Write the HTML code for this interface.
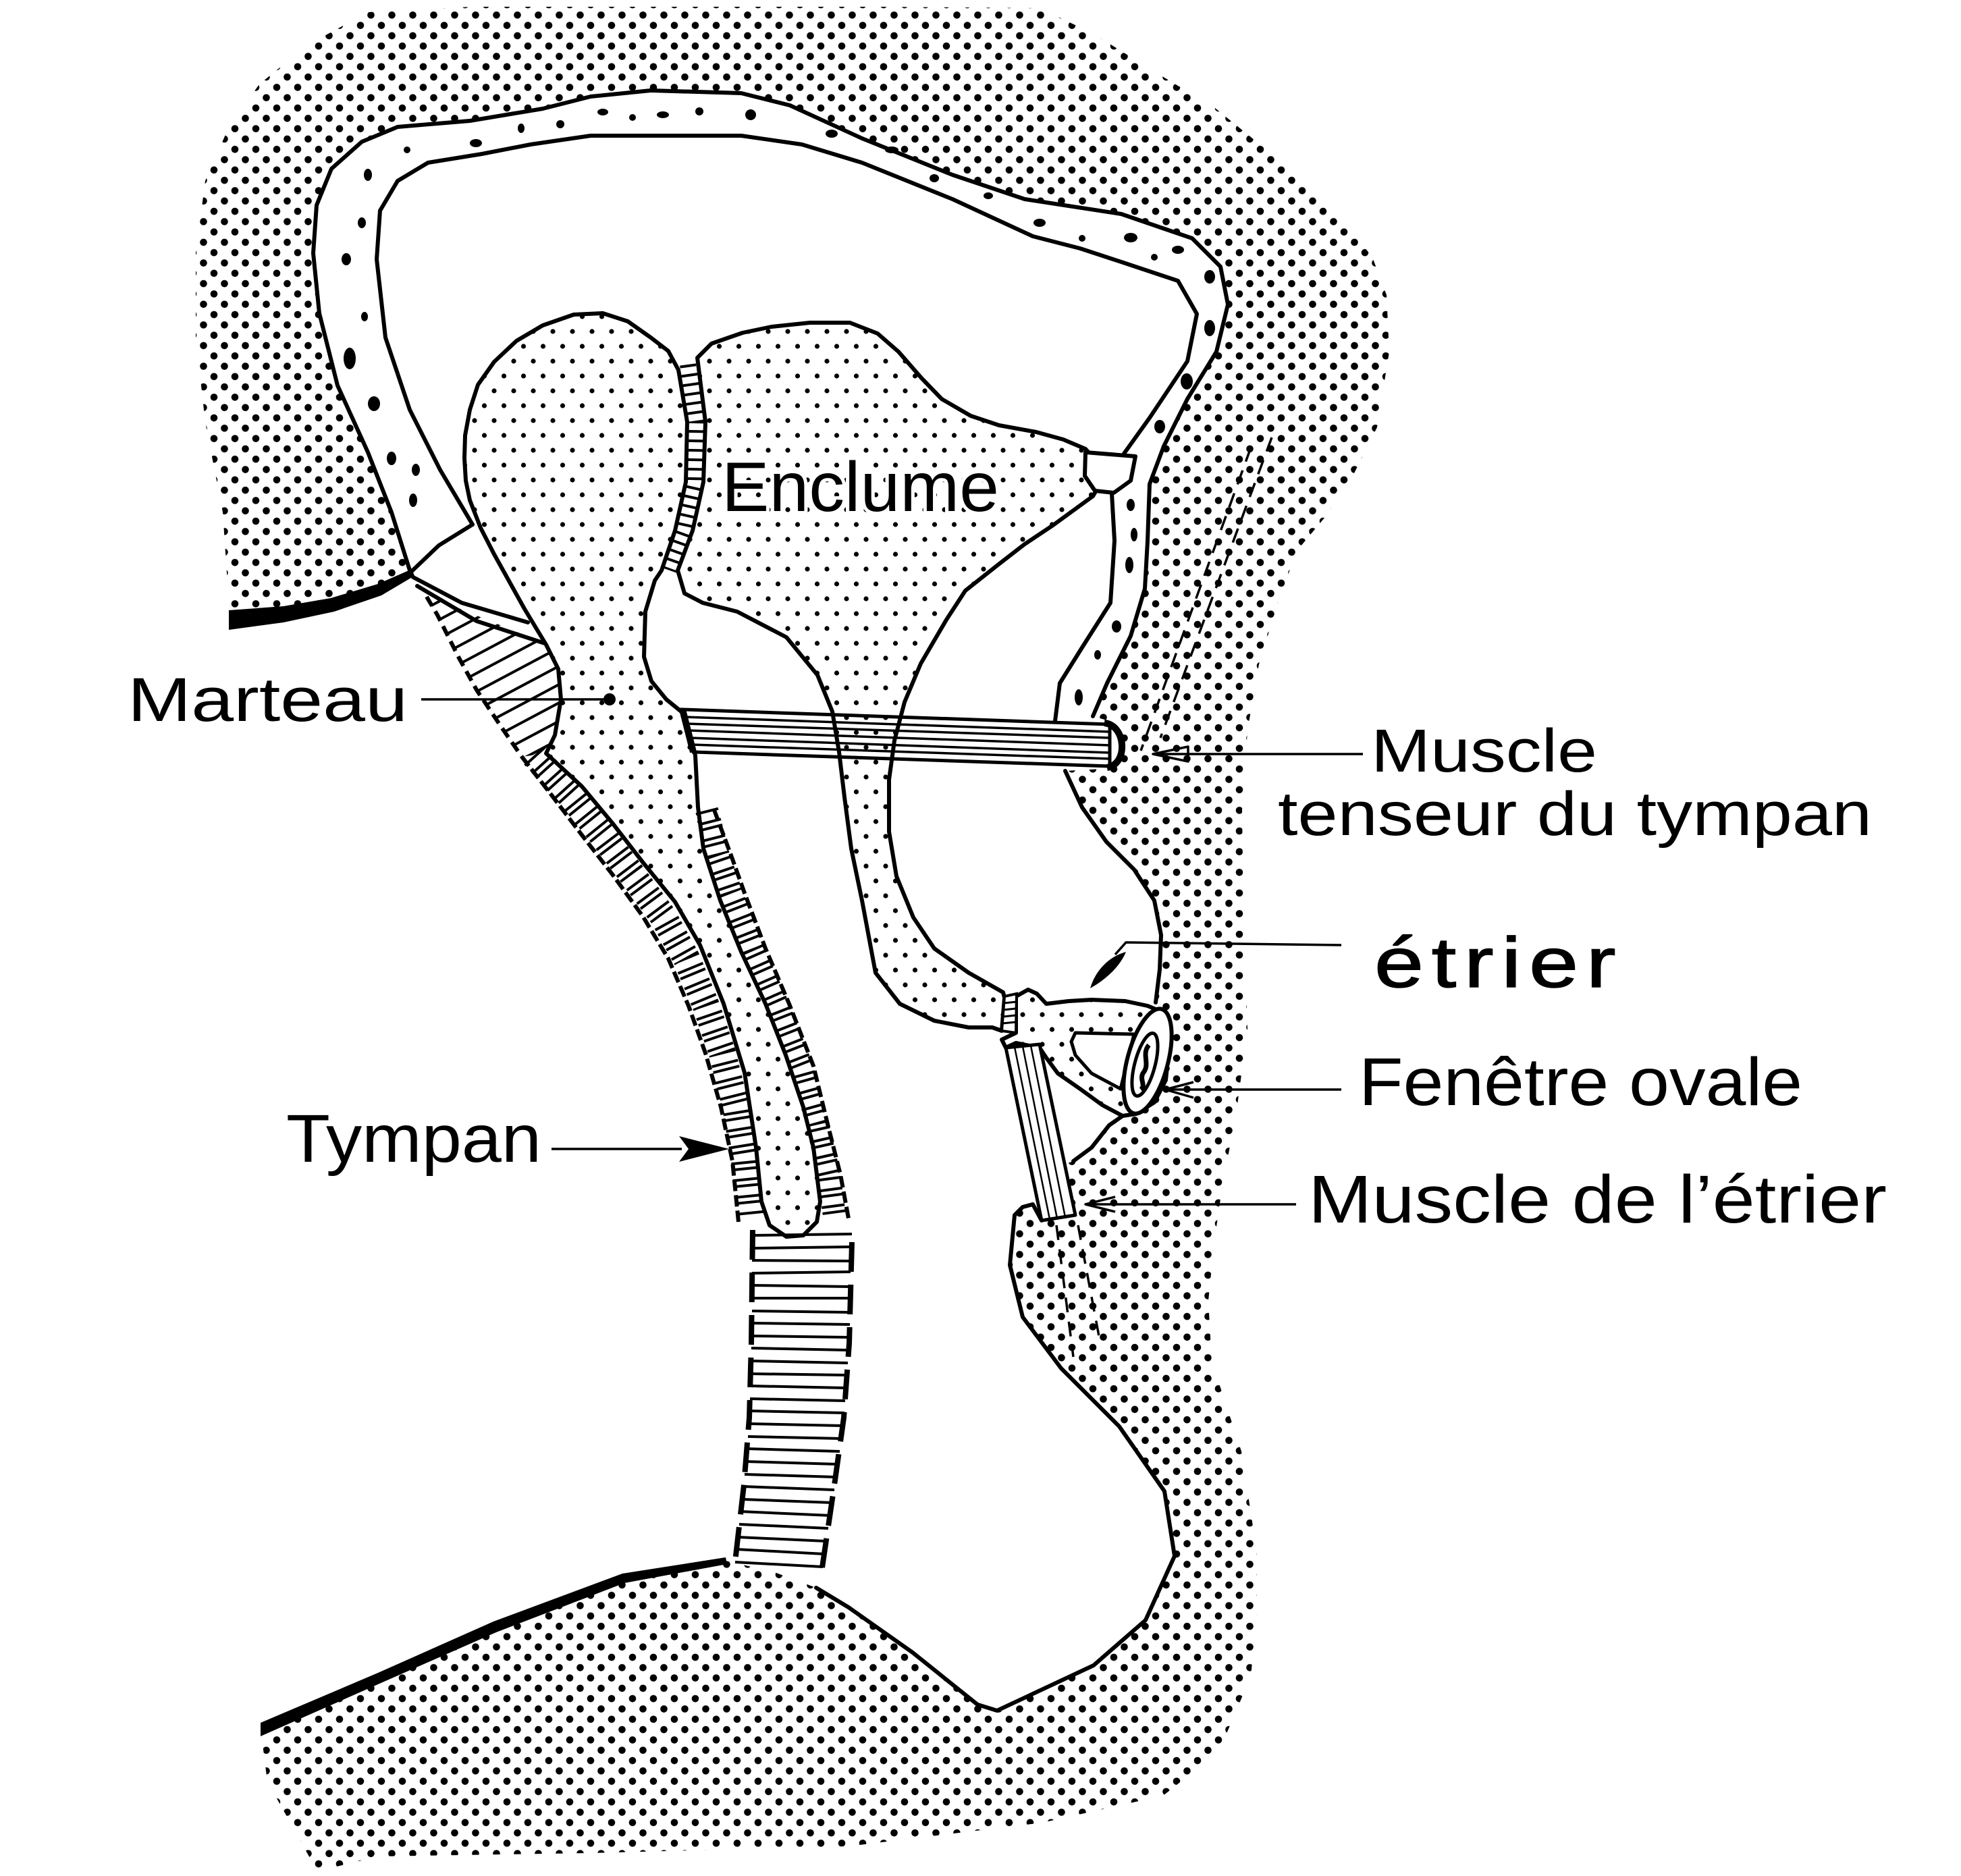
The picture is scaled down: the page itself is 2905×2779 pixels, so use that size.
<!DOCTYPE html>
<html><head><meta charset="utf-8"><style>
html,body{margin:0;padding:0;background:#fff;}
svg{display:block;}
text{font-family:"Liberation Sans",sans-serif;fill:#000;}
</style></head><body>
<svg width="2905" height="2779" viewBox="0 0 2905 2779" xmlns="http://www.w3.org/2000/svg">
<defs>
<pattern id="pb" width="31" height="30.6" patternUnits="userSpaceOnUse"><circle cx="7" cy="7" r="5.3"/><circle cx="22.5" cy="22.3" r="5.3"/></pattern>
<pattern id="po" width="29" height="44" patternUnits="userSpaceOnUse"><circle cx="7" cy="7" r="3.6"/><circle cx="21.5" cy="29" r="3.6"/></pattern>
<pattern id="ph" width="24" height="24" patternUnits="userSpaceOnUse" patternTransform="rotate(-28)"><line x1="0" y1="12" x2="24" y2="12" stroke="#000" stroke-width="4"/></pattern>
</defs>
<rect width="2905" height="2779" fill="#fff"/>

<!-- bone stipple -->
<path fill="url(#pb)" d="M339,930 L339,893 L330,759 L304,625 L290,500 L290,375 L304,268 L339,188 L384,125 L455,67 L545,18 L700,10 L1000,10 L1300,10 L1540,12 L1620,50 L1700,100 L1800,160 L1880,225 L1977,310 L2033,381 L2054,437 L2058,521 L2040,633 L2005,703 L1963,766 L1921,816 L1893,893 L1865,984 L1848,1082 L1840,1200 L1842,1346 L1848,1525 L1830,1659 L1812,1748 L1799,1838 L1790,1927 L1795,2016 L1839,2150 L1862,2300 L1862,2390 L1853,2483 L1806,2594 L1723,2660 L1544,2700 L1257,2735 L874,2745 L560,2750 L470,2772 L430,2700 L396,2639 L386,2560 Z"/>

<!-- white cavity / canal -->
<path fill="#fff" d="M0,920 L339,918 L470,905 L560,878 L608,848 L580,759 L545,670 L500,571 L473,464 L464,375 L469,304 L491,250 L536,210 L589,188 L696,179 L804,161 L875,143 L964,134 L1098,138 L1170,156 L1277,205 L1411,259 L1518,295 L1661,317 L1766,353 L1808,395 L1819,451 L1802,521 L1759,591 L1724,661 L1703,717 L1700,801 L1696,872 L1675,942 L1640,1012 L1619,1061 L1650,1070 L1665,1104 L1650,1138 L1578,1142 L1603,1196 L1639,1247 L1680,1288 L1710,1334 L1720,1385 L1718,1436 L1712,1485 L1717,1497 L1730,1517 L1732,1550 L1727,1600 L1710,1633 L1683,1650 L1663,1653 L1643,1667 L1617,1700 L1590,1720 L1576,1725 L1593,1800 L1543,1808 L1520,1788 L1503,1800 L1496,1874 L1515,1951 L1572,2027 L1658,2113 L1725,2209 L1740,2305 L1697,2400 L1620,2467 L1477,2534 L1448,2525 L1352,2448 L1257,2381 L1209,2352 L1150,2330 L1084,2314 L1075,2312 L922,2338 L731,2410 L386,2562 L0,2562 Z"/>

<g fill="none" stroke="#000" stroke-width="6" stroke-linejoin="round" stroke-linecap="round">
<!-- outer wall line -->
<path d="M608,848 L580,759 L545,670 L500,571 L473,464 L464,375 L469,304 L491,250 L536,210 L589,188 L696,179 L804,161 L875,143 L964,134 L1098,138 L1170,156 L1277,205 L1411,259 L1518,295 L1661,317 L1766,353 L1808,395 L1819,451 L1802,521 L1759,591 L1724,661 L1703,717 L1700,801 L1696,872 L1675,942 L1640,1012 L1619,1061"/>
<!-- inner wall line -->
<path d="M700,777 L652,696 L607,607 L571,500 L558,384 L563,312 L589,268 L634,241 L714,228 L786,214 L875,201 L964,201 L1098,201 L1188,214 L1277,241 L1411,295 L1530,350 L1600,368 L1661,388 L1745,416 L1773,465 L1759,535 L1703,619 L1665,672"/>
<path d="M1647,731 L1651,801 L1645,893 L1605,956 L1570,1012 L1563,1068"/>
<!-- lines from junction -->
<path d="M608,848 L650,808 L700,777"/>
<path d="M612,855 L684,893 L782,922"/>
<path d="M618,868 L706,920 L807,953"/>
</g>

<!-- wall spots -->
<g fill="#000">
<ellipse cx="545" cy="259" rx="6" ry="9"/>
<ellipse cx="536" cy="330" rx="6" ry="8"/>
<ellipse cx="513" cy="384" rx="7" ry="9"/>
<ellipse cx="540" cy="469" rx="5" ry="7"/>
<ellipse cx="518" cy="531" rx="9" ry="16"/>
<ellipse cx="554" cy="598" rx="9" ry="11"/>
<ellipse cx="580" cy="679" rx="7" ry="10"/>
<ellipse cx="616" cy="696" rx="6" ry="9"/>
<ellipse cx="612" cy="741" rx="6" ry="10"/>
<ellipse cx="603" cy="222" rx="5" ry="5"/>
<ellipse cx="705" cy="212" rx="9" ry="6"/>
<ellipse cx="772" cy="190" rx="5" ry="7"/>
<ellipse cx="830" cy="184" rx="6" ry="6"/>
<ellipse cx="893" cy="166" rx="8" ry="5"/>
<ellipse cx="937" cy="174" rx="5" ry="5"/>
<ellipse cx="982" cy="170" rx="9" ry="5"/>
<ellipse cx="1036" cy="165" rx="6" ry="6"/>
<ellipse cx="1112" cy="170" rx="8" ry="8"/>
<ellipse cx="1232" cy="198" rx="9" ry="6"/>
<ellipse cx="1321" cy="222" rx="10" ry="5"/>
<ellipse cx="1384" cy="264" rx="7" ry="6"/>
<ellipse cx="1464" cy="290" rx="7" ry="5"/>
<ellipse cx="1540" cy="330" rx="9" ry="6"/>
<ellipse cx="1603" cy="353" rx="5" ry="5"/>
<ellipse cx="1675" cy="352" rx="10" ry="7"/>
<ellipse cx="1710" cy="381" rx="5" ry="5"/>
<ellipse cx="1745" cy="370" rx="9" ry="6"/>
<ellipse cx="1792" cy="410" rx="8" ry="10"/>
<ellipse cx="1792" cy="486" rx="8" ry="12"/>
<ellipse cx="1758" cy="565" rx="9" ry="12"/>
<ellipse cx="1718" cy="632" rx="8" ry="10"/>
<ellipse cx="1675" cy="748" rx="6" ry="9"/>
<ellipse cx="1680" cy="792" rx="5" ry="10"/>
<ellipse cx="1673" cy="837" rx="6" ry="12"/>
<ellipse cx="1654" cy="928" rx="7" ry="9"/>
<ellipse cx="1626" cy="970" rx="5" ry="7"/>
<ellipse cx="1598" cy="1033" rx="6" ry="12"/>
</g>

<!-- thick lines -->
<path fill="#000" d="M339,904 L420,898 L490,886 L560,865 L610,843 L614,853 L565,882 L495,906 L420,922 L339,933 Z"/>
<path fill="#000" d="M386,2552 L560,2478 L731,2402 L922,2331 L1075,2307 L1077,2317 L925,2345 L735,2418 L560,2495 L386,2572 Z"/>

<!-- hatched region under malleus -->
<path fill="url(#ph)" d="M628,880 L807,953 L827,991 L831,1036 L822,1089 L809,1116 L773,1121 L742,1076 L706,1022 L679,973 L648,911 Z"/>
<path d="M632,884 L648,911 L679,973 L706,1022 L742,1076 L773,1121" fill="none" stroke="#000" stroke-width="6" stroke-dasharray="16 9"/>

<!-- outer tympanum band (ladder) -->
<path d="M791,1119 L846,1180 L892,1237 L936,1295 L982,1357 L1017,1420 L1046,1490 L1070,1560 L1090,1640 L1103,1720 L1111,1800" fill="none" stroke="#000" stroke-width="40" stroke-dasharray="4 12 4 5"/>
<path d="M773,1121 L818,1179 L862,1237 L907,1295 L952,1357 L990,1420 L1020,1490 L1045,1560 L1068,1640 L1085,1720 L1094,1810" fill="none" stroke="#000" stroke-width="6" stroke-dasharray="17 6"/>
<!-- inner band -->
<path d="M1047,1200 L1064,1267 L1083,1323 L1115,1405 L1151,1487 L1187,1579 L1211,1665 L1228,1740 L1236,1800" fill="none" stroke="#000" stroke-width="34" stroke-dasharray="4 12 4 5"/>
<path d="M1058,1200 L1083,1267 L1103,1323 L1134,1405 L1169,1487 L1205,1579 L1226,1665 L1245,1740 L1257,1805" fill="none" stroke="#000" stroke-width="6" stroke-dasharray="17 6"/>

<!-- wide ladder -->
<g fill="none" stroke="#000" stroke-width="8" stroke-dasharray="44 19">
<path d="M1115,1822 L1113,1990 L1110,2100 L1102,2200 L1088,2322"/>
<path d="M1262,1840 L1258,1990 L1250,2100 L1236,2200 L1218,2322"/>
</g>
<g stroke="#000" stroke-width="4">
<line x1="1115" y1="1830" x2="1262" y2="1828"/>
<line x1="1115" y1="1849" x2="1261" y2="1847"/>
<line x1="1114" y1="1867" x2="1261" y2="1868"/>
<line x1="1114" y1="1886" x2="1260" y2="1884"/>
<line x1="1114" y1="1904" x2="1260" y2="1906"/>
<line x1="1114" y1="1923" x2="1260" y2="1923"/>
<line x1="1114" y1="1942" x2="1259" y2="1944"/>
<line x1="1113" y1="1960" x2="1259" y2="1962"/>
<line x1="1113" y1="1979" x2="1258" y2="1981"/>
<line x1="1113" y1="1997" x2="1257" y2="2000"/>
<line x1="1112" y1="2016" x2="1256" y2="2019"/>
<line x1="1112" y1="2035" x2="1255" y2="2037"/>
<line x1="1111" y1="2053" x2="1253" y2="2056"/>
<line x1="1111" y1="2072" x2="1252" y2="2075"/>
<line x1="1110" y1="2090" x2="1251" y2="2093"/>
<line x1="1109" y1="2109" x2="1249" y2="2112"/>
<line x1="1108" y1="2128" x2="1246" y2="2131"/>
<line x1="1106" y1="2146" x2="1244" y2="2150"/>
<line x1="1105" y1="2165" x2="1241" y2="2169"/>
<line x1="1103" y1="2184" x2="1238" y2="2188"/>
<line x1="1102" y1="2202" x2="1236" y2="2207"/>
<line x1="1100" y1="2221" x2="1233" y2="2226"/>
<line x1="1097" y1="2239" x2="1230" y2="2245"/>
<line x1="1095" y1="2258" x2="1227" y2="2264"/>
<line x1="1093" y1="2277" x2="1224" y2="2283"/>
<line x1="1091" y1="2295" x2="1221" y2="2302"/>
<line x1="1089" y1="2314" x2="1219" y2="2321"/>
</g>

<!-- malleus -->
<path fill="url(#po)" stroke="#000" stroke-width="6" stroke-linejoin="round" d="M1005,548 L990,520 L964,500 L930,476 L893,464 L850,466 L804,482 L765,505 L732,536 L708,570 L696,607 L689,645 L688,679 L690,712 L696,741 L712,782 L732,821 L777,902 L809,955 L827,991 L831,1036 L822,1089 L809,1116 L862,1165 L907,1219 L952,1277 L1000,1336 L1037,1400 L1072,1487 L1103,1589 L1120,1700 L1128,1780 L1140,1815 L1165,1832 L1190,1830 L1210,1810 L1215,1780 L1205,1700 L1190,1640 L1164,1563 L1134,1487 L1098,1410 L1067,1334 L1042,1257 L1034,1196 L1030,1119 L1014,1058 L987,1036 L965,1009 L954,973 L956,906 L970,860 L980,845 L1000,786 L1016,714 L1018,625 Z"/>
<circle cx="903" cy="1036" r="9" fill="#000"/>

<!-- incudomalleolar joint -->
<path d="M1019,540 L1031,625 L1029,714 L1013,786 L992,845" fill="none" stroke="#000" stroke-width="24" stroke-dasharray="4 10"/>

<!-- tensor tympani tendon -->
<path fill="#fff" stroke="#000" stroke-width="5" d="M1011,1051 L1644,1073 L1644,1135 L1027,1114 Z"/>
<g stroke="#000" stroke-width="3.5">
<line x1="1014" y1="1062" x2="1644" y2="1084"/>
<line x1="1016" y1="1072" x2="1644" y2="1093"/>
<line x1="1019" y1="1082" x2="1644" y2="1104"/>
<line x1="1022" y1="1093" x2="1644" y2="1115"/>
<line x1="1024" y1="1103" x2="1644" y2="1124"/>
</g>
<path d="M1011,1051 L1027,1114" stroke="#000" stroke-width="10" fill="none"/>
<path d="M1636,1071 C1668,1074 1672,1132 1640,1137" stroke="#000" stroke-width="10" fill="none"/>

<!-- incus -->
<path fill="url(#po)" stroke="#000" stroke-width="6" stroke-linejoin="round" d="M1033,530 L1054,509 L1100,493 L1143,484 L1200,478 L1259,478 L1300,494 L1331,521 L1365,560 L1395,591 L1438,616 L1480,630 L1535,640 L1575,651 L1608,665 L1640,700 L1619,735 L1560,778 L1518,806 L1478,837 L1430,875 L1402,918 L1364,983 L1340,1040 L1325,1097 L1317,1155 L1317,1232 L1328,1298 L1353,1359 L1384,1405 L1435,1441 L1486,1470 L1488,1478 L1484,1527 L1470,1522 L1435,1522 L1384,1512 L1333,1487 L1297,1441 L1277,1334 L1261,1257 L1251,1181 L1243,1114 L1233,1054 L1211,1000 L1165,944 L1092,906 L1041,893 L1014,879 L1004,845 L1026,786 L1042,714 L1045,625 Z"/>
<!-- node -->
<path fill="#fff" stroke="#000" stroke-width="6" stroke-linejoin="round" d="M1608,670 L1682,676 L1675,712 L1650,730 L1622,727 L1607,705 Z"/>

<!-- stapes -->
<path fill="url(#po)" stroke="#000" stroke-width="6" stroke-linejoin="round" d="M1505,1476 L1523,1466 L1536,1472 L1550,1487 L1583,1483 L1617,1481 L1667,1483 L1700,1490 L1717,1497 L1730,1517 L1732,1550 L1727,1600 L1710,1633 L1683,1650 L1663,1653 L1633,1637 L1600,1613 L1567,1590 L1550,1567 L1540,1552 L1505,1545 L1490,1552 L1484,1540 L1505,1530 Z"/>
<path fill="#fff" stroke="#000" stroke-width="5" stroke-linejoin="round" d="M1593,1530 L1680,1532 L1660,1613 L1617,1590 L1593,1563 L1587,1543 Z"/>
<ellipse cx="1700" cy="1572" rx="30" ry="80" transform="rotate(15 1700 1572)" fill="#fff" stroke="#000" stroke-width="6"/>
<ellipse cx="1696" cy="1577" rx="15" ry="48" transform="rotate(15 1696 1577)" fill="#fff" stroke="#000" stroke-width="5"/>
<path d="M1702,1548 C1690,1562 1705,1576 1693,1590 C1688,1600 1698,1608 1690,1614" fill="none" stroke="#000" stroke-width="7"/>
<!-- lenticular-stapes joint -->
<path fill="#fff" stroke="#000" stroke-width="4" d="M1488,1476 L1506,1472 L1505,1530 L1484,1527 Z"/>
<g stroke="#000" stroke-width="3"><line x1="1487" y1="1486" x2="1506" y2="1484"/><line x1="1486" y1="1496" x2="1505" y2="1494"/><line x1="1486" y1="1506" x2="1505" y2="1504"/><line x1="1485" y1="1516" x2="1505" y2="1514"/></g>

<!-- stapedius tendon -->
<path fill="#fff" stroke="#000" stroke-width="5" stroke-linejoin="round" d="M1490,1552 L1540,1547 L1593,1800 L1543,1808 Z"/>
<g stroke="#000" stroke-width="2.5"><line x1="1503" y1="1551" x2="1555" y2="1806"/><line x1="1515" y1="1550" x2="1566" y2="1805"/><line x1="1527" y1="1549" x2="1578" y2="1803"/></g>

<!-- other cavity lines -->
<g fill="none" stroke="#000" stroke-width="6" stroke-linejoin="round" stroke-linecap="round">
<path d="M1578,1142 L1603,1196 L1639,1247 L1680,1288 L1710,1334 L1720,1385 L1718,1436 L1712,1485"/>
<path d="M1663,1653 L1643,1667 L1617,1700 L1590,1720"/>
<path d="M1543,1808 L1530,1784 L1515,1788 L1503,1800 L1496,1874 L1515,1951 L1572,2027 L1658,2113 L1725,2209 L1740,2305 L1697,2400 L1620,2467 L1477,2534 L1448,2525 L1352,2448 L1257,2381 L1209,2352"/>
</g>

<!-- dashed lines -->
<g fill="none" stroke="#000" stroke-width="3.5" stroke-dasharray="22 14">
<path d="M1853,663 L1690,1112"/>
<path d="M1884,648 L1719,1093"/>
<path d="M1565,1815 L1590,2010"/>
<path d="M1597,1815 L1630,1990"/>
</g>

<!-- leader lines and arrows -->
<g fill="none" stroke="#000" stroke-width="3.5" stroke-linejoin="round">
<path d="M624,1036 L903,1036"/>
<path d="M2019,1117 L1712,1117"/>
<path d="M1760,1106 L1708,1117 L1760,1128 Z"/>
<path d="M1987,1400 L1668,1396 L1652,1414"/>
<path d="M1987,1614 L1730,1614"/>
<path d="M1768,1603 L1726,1614 L1768,1626"/>
<path d="M1920,1784 L1610,1784"/>
<path d="M1652,1773 L1608,1784 L1652,1795"/>
<path d="M817,1702 L1010,1702"/>
</g>
<path fill="#000" d="M1668,1410 C1660,1430 1640,1450 1615,1464 C1622,1440 1640,1418 1668,1410 Z"/>
<path fill="#000" d="M1006,1683 L1080,1702 L1006,1721 L1020,1702 Z"/>

<!-- labels -->
<text x="1069" y="757" font-size="104" textLength="411" lengthAdjust="spacingAndGlyphs" stroke="#fff" stroke-width="10" paint-order="stroke" stroke-linejoin="round">Enclume</text>
<text x="189" y="1068" font-size="92" textLength="415" lengthAdjust="spacingAndGlyphs">Marteau</text>
<text x="2031" y="1143" font-size="90" textLength="335" lengthAdjust="spacingAndGlyphs">Muscle</text>
<text x="1893" y="1237" font-size="92" textLength="880" lengthAdjust="spacingAndGlyphs">tenseur du tympan</text>
<text transform="translate(2036,1462) scale(1.25,1)" x="0" y="0" font-size="105" textLength="286" lengthAdjust="spacing" stroke="#000" stroke-width="1.5">étrier</text>
<text x="2013" y="1637" font-size="100" textLength="657" lengthAdjust="spacingAndGlyphs">Fenêtre ovale</text>
<text x="1938" y="1811" font-size="100" textLength="857" lengthAdjust="spacingAndGlyphs">Muscle de l’étrier</text>
<text x="424" y="1721" font-size="100" textLength="378" lengthAdjust="spacingAndGlyphs">Tympan</text>
</svg>
</body></html>
